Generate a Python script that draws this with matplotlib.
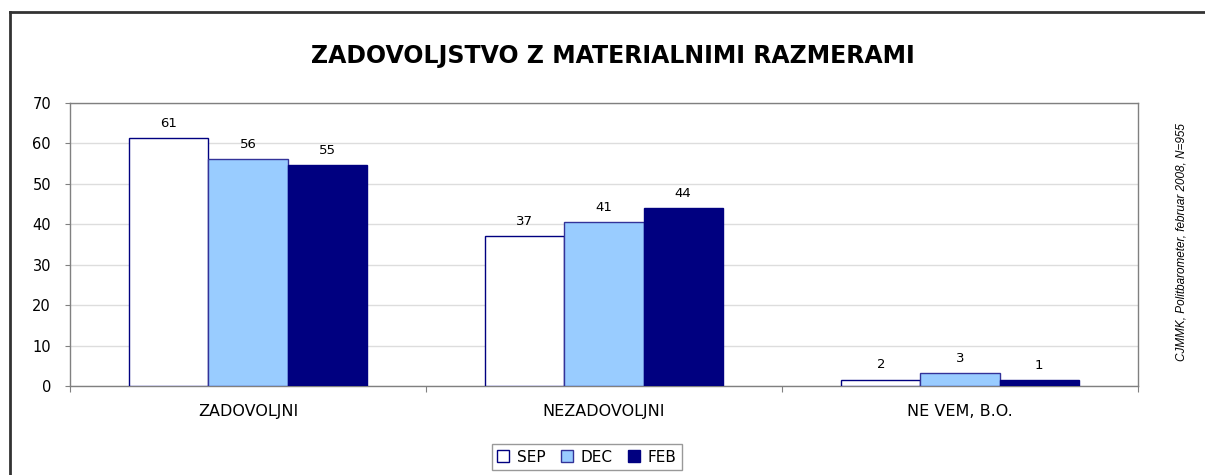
import numpy as np
import matplotlib
import matplotlib.pyplot as plt
from matplotlib.lines import Line2D

matplotlib.rc('font', family=['DejaVu Sans'])

categories = ['ZADOVOLJNI', 'NEZADOVOLJNI', 'NE VEM, B.O.']
series_names = ['SEP', 'DEC', 'FEB']
sep_vals = [61.3, 37.2, 1.6]
dec_vals = [56.2, 40.6, 3.1]
feb_vals = [54.6, 44.1, 1.4]
sep_labels = ['61', '37', '2']
dec_labels = ['56', '41', '3']
feb_labels = ['55', '44', '1']

title = 'ZADOVOLJSTVO Z MATERIALNIMI RAZMERAMI'
source = 'CJMMK, Politbarometer, februar 2008, N=955'

faces = ['#FFFFFF', '#99CCFF', '#000080']
edges = ['#000080', '#333399', '#000080']

fig = plt.figure(figsize=(12.05, 4.75), dpi=100)
ax = fig.add_axes([70 / 1205, 1 - 386 / 475, 1068 / 1205, 283 / 475])

x = np.arange(len(categories))
width = 1 / (3 + 1.5)
all_vals = [sep_vals, dec_vals, feb_vals]
all_labels = [sep_labels, dec_labels, feb_labels]
for i, (vals, lbls) in enumerate(zip(all_vals, all_labels)):
    pos = x + (i - 1) * width
    ax.bar(pos, vals, width, color=faces[i], edgecolor=edges[i], linewidth=1.0,
           label=series_names[i], zorder=3)
    for p, v, t in zip(pos, vals, lbls):
        ax.text(p, v + 2.0, t, ha='center', va='bottom', fontsize=9.5, color='#000000')

ax.set_xlim(-0.5, 2.5)
ax.set_ylim(0, 70)
ax.set_yticks(range(0, 71, 10))
ax.tick_params(axis='y', labelsize=10.5, length=3.6, color='#808080', pad=10)
ax.yaxis.grid(True, color='#DDDDDD', linewidth=1, zorder=0)

ax.set_xticks([-0.5, 0.5, 1.5, 2.5])
ax.set_xticklabels([])
ax.tick_params(axis='x', which='major', length=4, color='#808080')
ax.set_xticks(x, minor=True)
ax.set_xticklabels(categories, minor=True)
ax.tick_params(axis='x', which='minor', length=0, labelsize=11.5, pad=13)

for s in ax.spines.values():
    s.set_color('#808080')
    s.set_linewidth(1)

fig.text(613 / 1205, 1 - 56 / 475, title, ha='center', va='center',
         fontsize=17, fontweight='bold')
fig.text(1181 / 1205, 1 - 242 / 475, source, rotation=90, ha='center', va='center',
         fontsize=8.5, style='italic', family='Liberation Sans')

leg = ax.legend(loc='center', bbox_to_anchor=(587 / 1205, 1 - 457 / 475),
                bbox_transform=fig.transFigure, ncol=3, frameon=True, fancybox=False,
                fontsize=11, handlelength=0.8, handleheight=0.8, handletextpad=0.5,
                columnspacing=1.0, borderpad=0.35, borderaxespad=0)
leg.get_frame().set_edgecolor('#808080')
leg.get_frame().set_linewidth(1)

# outer frame of the chart area
fig.add_artist(Line2D([10 / 1205, 10 / 1205], [0, 1 - 12 / 475], transform=fig.transFigure,
                      color='#333333', linewidth=2))
fig.add_artist(Line2D([10 / 1205, 1], [1 - 12 / 475, 1 - 12 / 475], transform=fig.transFigure,
                      color='#333333', linewidth=2))

fig.savefig('out.png', dpi=100)
